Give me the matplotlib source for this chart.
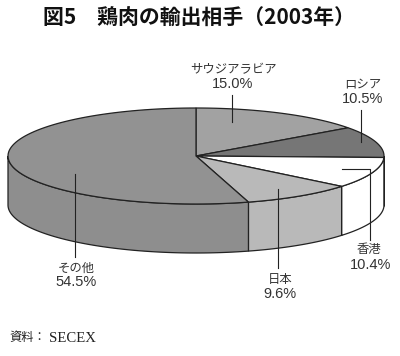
import numpy as np
import matplotlib
matplotlib.use("Agg")
import matplotlib.pyplot as plt

plt.rcParams['font.family'] = ['Noto Sans CJK JP', 'DejaVu Sans']

# shares in percent, clockwise from 12 o'clock
countries = ['サウジアラビア', 'ロシア', '香港', '日本', 'その他']
shares = [15.0, 10.5, 10.4, 9.6, 54.5]
top_colors = ['#a2a2a2', '#767676', '#ffffff', '#b9b9b9', '#929292']
side_colors = ['#a2a2a2', '#767676', '#ffffff', '#b9b9b9', '#8e8e8e']

# pie geometry in image pixels
cx, cy = 196, 156
rx, ry = 188, 48
depth = 49
line_col = '#222222'


def rim(a, b, drop=0):
    # points on the ellipse, angles in degrees clockwise from the top
    t = np.radians(np.linspace(a, b, 100))
    return cx + rx * np.sin(t), cy - ry * np.cos(t) + drop


fig = plt.figure(figsize=(4, 3.56), dpi=100)
ax = fig.add_axes([0, 0, 1, 1])
ax.set_xlim(0, 400)
ax.set_ylim(356, 0)
ax.axis('off')

ends = np.cumsum(shares) * 3.6
starts = np.r_[0, ends[:-1]]

# side wall, only the front half of the rim is visible
for a, b, c in zip(starts, ends, side_colors):
    a2, b2 = max(a, 90), min(b, 270)
    if a2 >= b2:
        continue
    x, y = rim(a2, b2)
    xb, yb = rim(a2, b2, depth)
    ax.fill(np.r_[x, xb[::-1]], np.r_[y, yb[::-1]], facecolor=c,
            edgecolor=line_col, linewidth=0.9, zorder=1)

# top face
for a, b, c in zip(starts, ends, top_colors):
    x, y = rim(a, b)
    ax.fill(np.r_[cx, x], np.r_[cy, y], facecolor=c,
            edgecolor=line_col, linewidth=0.9, zorder=2)

# leader lines
leaders = [
    ([232, 232], [95, 122]),
    ([361, 361], [110, 142]),
    ([342, 370, 370], [169, 169, 240]),
    ([278, 278], [189, 268]),
    ([75, 75], [174, 257]),
]
for lx, ly in leaders:
    ax.plot(lx, ly, color=line_col, linewidth=0.8, zorder=3)

# labels: name and percent are set separately, the percent runs wider
name_pos = [(233, 70), (363, 85), (369, 250), (280, 279), (76, 268)]
value_pos = [(233, 84), (363, 99), (371, 265), (280, 294), (76, 282)]
for name, share, np_, vp in zip(countries, shares, name_pos, value_pos):
    ax.text(np_[0], np_[1], name, ha='center', va='center',
            fontsize=8.9, color='#333333', zorder=4)
    ax.text(vp[0], vp[1], f'{share:.1f}%', ha='center', va='center',
            fontsize=10.5, family='Liberation Sans', color='#333333', zorder=4)

ax.text(199, 18, '図5\u3000鶏肉の輸出相手（2003年）', ha='center', va='center',
        fontsize=15, fontweight='bold', color='#111111')
ax.text(9, 338, '資料：', ha='left', va='center', fontsize=8.8, color='#222222')
ax.text(49, 338, 'SECEX', ha='left', va='center', fontsize=10.6,
        family='Liberation Serif', color='#222222')

fig.savefig('out.png', dpi=100)
